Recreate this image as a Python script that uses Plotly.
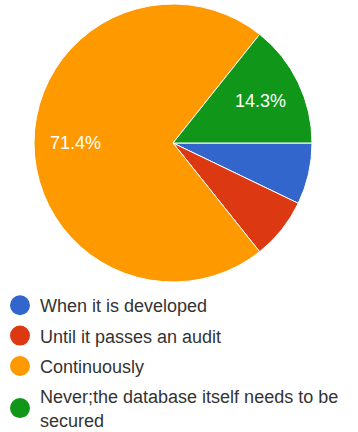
import math
import plotly.graph_objects as go

labels = ["When it is developed", "Until it passes an audit", "Continuously",
          "Never;the database itself needs to be secured"]
legend_labels = ["When it is developed", "Until it passes an audit", "Continuously",
                 "Never;the database itself needs to be<br>secured"]
values = [1, 1, 10, 2]
colors = ["#3366cc", "#dc3912", "#ff9900", "#109618"]
show_label = [False, False, True, True]

total = sum(values)
W, H = 358, 432
# pie placement (pixels): center and radius
CX, CY, R = 173, 143, 139
dom = dict(x=[(CX - R) / W, (CX + R) / W], y=[(H - CY - R) / H, (H - CY + R) / H])

fig = go.Figure()
fig.add_trace(go.Pie(
    labels=labels, values=values, sort=False, direction="clockwise", rotation=90,
    marker=dict(colors=colors, line=dict(color="white", width=1)),
    textinfo="none", showlegend=False, hoverinfo="label+percent",
    domain=dom,
))

# slice labels at each slice's mid-angle (clockwise from 3 o'clock)
cum = 0
for v, s in zip(values, show_label):
    if s:
        ang = math.radians((cum + v / 2) / total * 360)
        px = CX + 0.7 * R * math.cos(ang)
        py = CY + 0.7 * R * math.sin(ang)
        fig.add_annotation(
            x=px / W, y=(H - py) / H, xref="paper", yref="paper",
            text=f"{v / total * 100:.1f}%", showarrow=False,
            xanchor="center", yanchor="middle",
            font=dict(family="Liberation Sans, Arial", size=18, color="white"),
        )
    cum += v

for i, (lab, col) in enumerate(zip(legend_labels, colors)):
    fig.add_trace(go.Scatter(
        x=[None], y=[None], mode="markers", name=lab, legendgroup=str(i),
        marker=dict(color=col, size=16, symbol="circle", line=dict(color=col, width=4)),
    ))

fig.update_layout(
    width=W, height=H, margin=dict(l=0, r=0, t=0, b=0, autoexpand=False),
    paper_bgcolor="white", plot_bgcolor="white",
    xaxis=dict(visible=False), yaxis=dict(visible=False),
    legend=dict(x=0, y=(H - 287) / H, xanchor="left", yanchor="top",
                font=dict(family="Liberation Sans, Arial", size=18, color="#333333"),
                tracegroupgap=4, bgcolor="rgba(0,0,0,0)"),
)
fig.write_html("out.html")
